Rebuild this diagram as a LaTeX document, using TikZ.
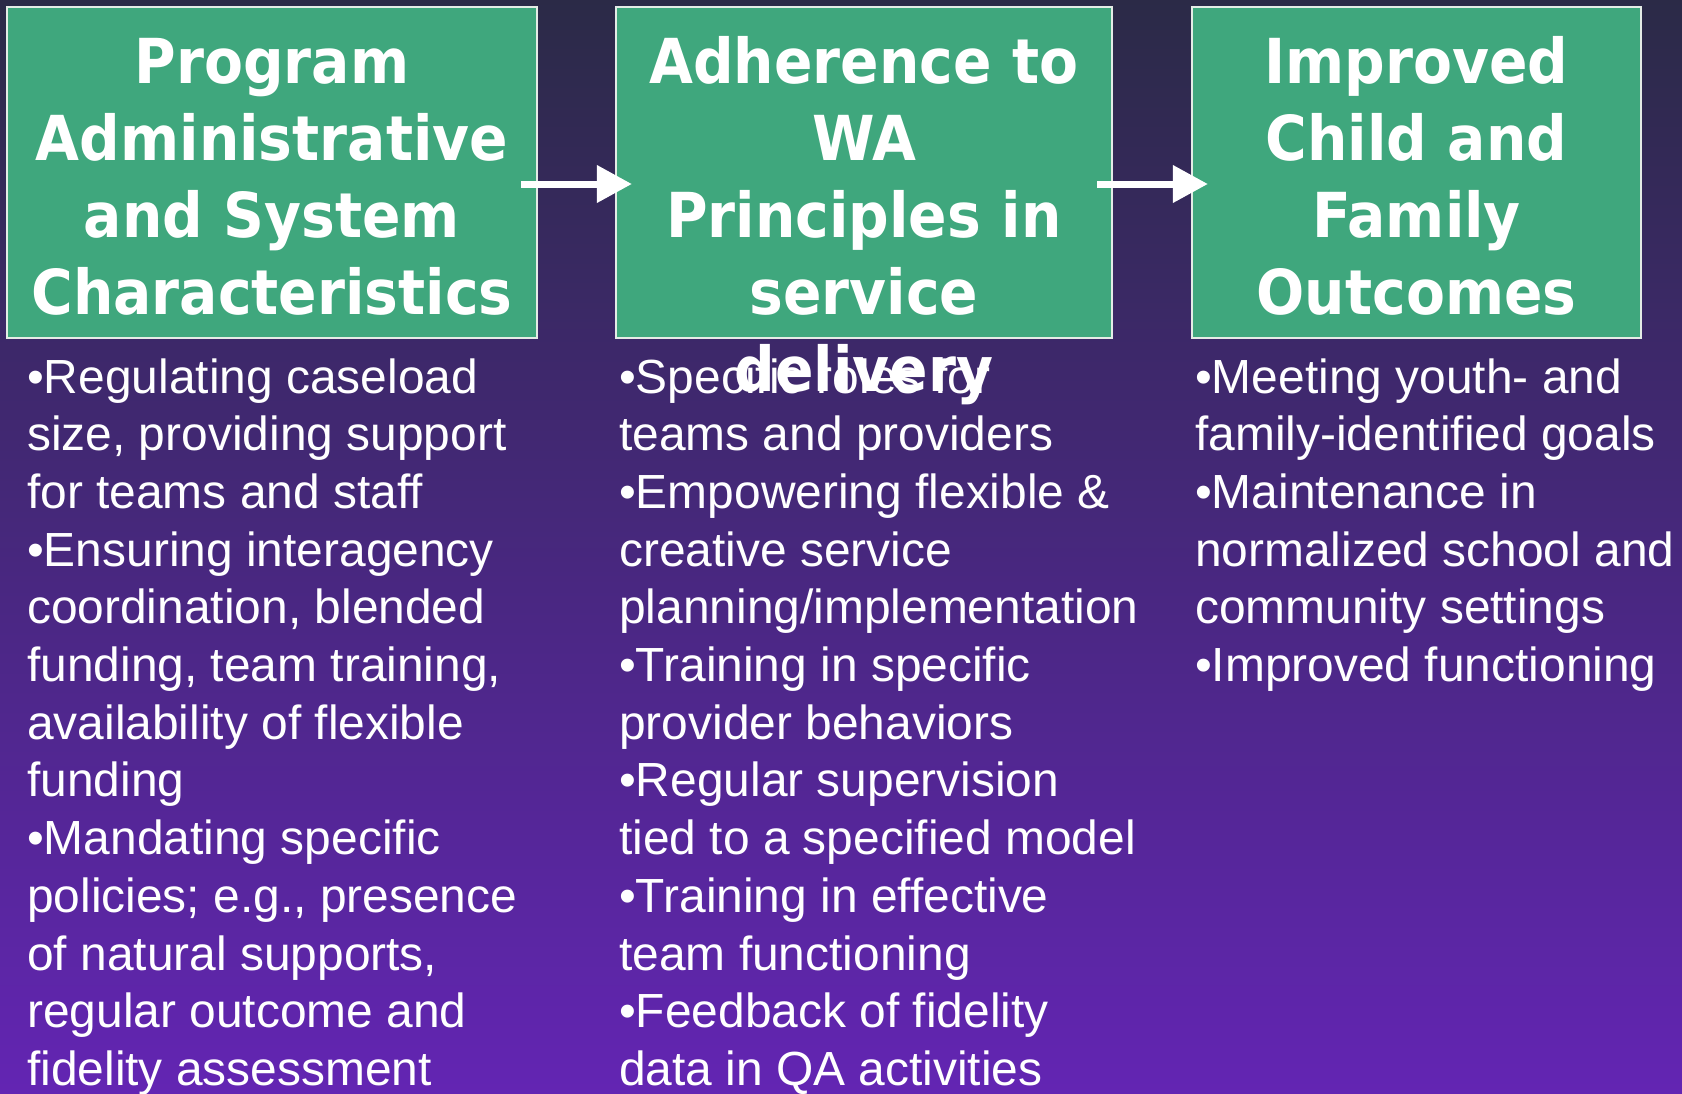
\documentclass[tikz,border=0pt]{standalone}
\usepackage{fontspec}
\setmainfont{Liberation Sans}
\newfontfamily\titlefont{DejaVu Sans}[FakeStretch=0.915]
\usetikzlibrary{arrows.meta,calc}
\definecolor{bgtop}{HTML}{2B2A47}
\definecolor{bgbot}{HTML}{6325B3}
\definecolor{boxgreen}{HTML}{3FA77D}
\definecolor{boxedge}{HTML}{E4ECE6}
\newcommand\tightsp{\spaceskip=0.278em\relax}
\tikzset{
  box/.style={draw=boxedge, line width=2.2pt, fill=boxgreen, inner sep=0pt},
  title/.style={text=white, font=\titlefont\bfseries\fontsize{62}{77}\selectfont,
    text width=560pt, align=center, inner sep=0pt, anchor=base},
  body/.style={text=white, font=\fontsize{47.9}{57.7}\selectfont,
    text width=620pt, align=left, inner sep=0pt, anchor=base west},
  arr/.style={draw=white, line width=7pt, -{Triangle[length=35pt,width=36pt]}}
}
\begin{document}
\begin{tikzpicture}[x=1pt,y=-1pt]
\useasboundingbox (0,0) rectangle (1682,1093);
\shade[top color=bgtop, bottom color=bgbot] (0,0) rectangle (1682,1093);
% boxes
\node[box, minimum width=530pt, minimum height=331pt] (b1) at (272,172.5) {};
\node[box, minimum width=496pt, minimum height=331pt] (b2) at (864,172.5) {};
\node[box, minimum width=449pt, minimum height=331pt] (b3) at (1416.5,172.5) {};
% arrows
\coordinate (a1s) at ($(b1.east)+(-17,11.5)$);
\coordinate (a1e) at ($(b2.west)+(17,11.5)$);
\coordinate (a2s) at ($(b2.east)+(-16,11.5)$);
\coordinate (a2e) at ($(b3.west)+(17,11.5)$);
\draw[arr] (a1s) -- (a1e);
\draw[arr] (a2s) -- (a2e);
% titles
\node[title] (t1) at (272,83) {Program\\Administrative\\and System\\Characteristics};
\node[title] (t2) at (864,83) {Adherence to\\WA\\Principles in\\service\\delivery};
\node[title] (t3) at (1416.5,83) {Improved\\Child and\\Family\\Outcomes};
% body texts
\node[body] (c1) at (27,393) {\tightsp •Regulating caseload\\size, providing support\\for teams and staff\\•Ensuring interagency\\coordination, blended\\funding, team training,\\availability of flexible\\funding\\•Mandating specific\\policies; e.g., presence\\of natural supports,\\regular outcome and\\fidelity assessment};
\node[body] (c2) at (619,393) {\tightsp •Specific roles for\\teams and providers\\•Empowering flexible \&\\creative service\\planning/implementation\\•Training in specific\\provider behaviors\\•Regular supervision\\tied to a specified model\\•Training in effective\\team functioning\\•Feedback of fidelity\\data in QA activities};
\node[body] (c3) at (1195,393) {\tightsp •Meeting youth- and\\family-identified goals\\•Maintenance in\\normalized school and\\community settings\\•Improved functioning};
\end{tikzpicture}
\end{document}
